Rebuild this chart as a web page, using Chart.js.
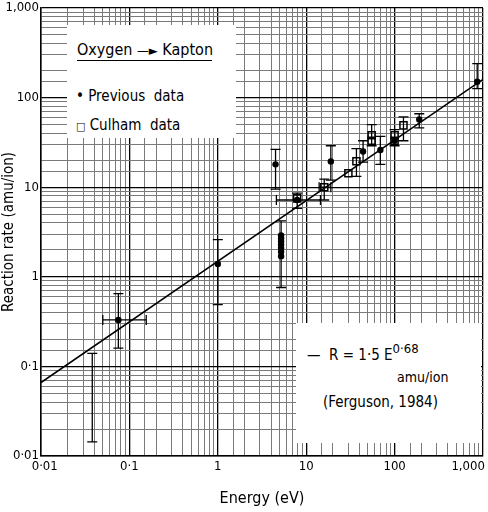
<!DOCTYPE html>
<html lang="en">
<head>
<meta charset="UTF-8">
<title>Oxygen - Kapton reaction rate</title>
<script src="https://cdn.jsdelivr.net/npm/chart.js"></script>
<style>
    body { margin: 0; background: #fff; }
    #wrap { position: relative; width: 488px; height: 512px; font-family: "DejaVu Sans Condensed", "DejaVu Sans", sans-serif; color: #000; }
    .box { position: absolute; background: #fff; }
    .txt { position: absolute; white-space: pre; line-height: 1; }
</style>
</head>
<body>
<div id="wrap">
    <canvas id="myChart" width="488" height="512"></canvas>

    <!-- legend, top left -->
    <div class="box" style="left:67px; top:25px; width:169px; height:113px;">
        <div class="txt" style="left:10px; top:17px; font-size:16px; border-bottom:1.5px solid #000; padding-bottom:2px; width:135px;">Oxygen <span style="font-size:13px;">—►</span> Kapton</div>
        <div class="txt" style="left:9px; top:64px; font-size:15px;">• Previous  data</div>
        <div class="txt" style="left:9px; top:93px; font-size:15px;"><span style="font-size:11px;">□</span> Culham  data</div>
    </div>

    <!-- fit note, bottom right -->
    <div class="box" style="left:296px; top:323px; width:185px; height:120px;">
        <div class="txt" style="left:11px; top:19px; font-size:15px;">—  R = 1·5 E<sup style="font-size:13px; vertical-align:7px;">0·68</sup></div>
        <div class="txt" style="left:101px; top:47px; font-size:14px;">amu/ion</div>
        <div class="txt" style="left:27px; top:72px; font-size:15px;">(Ferguson, 1984)</div>
    </div>
</div>

<script>
    // fitted line R = 1.5 E^0.68, ends
    var fitE = [0.01, 1000];
    var fitR = [0.066, 160];

    // previous data (filled dots)
    var prevE     = [0.075, 1.0, 4.5, 7.9, 5.2, 5.2, 5.2, 5.2, 5.2, 5.2, 5.2, 19, 44, 69, 100, 190, 860];
    var prevR     = [0.33, 1.39, 18, 7.2, 1.7, 1.9, 2.1, 2.3, 2.5, 2.7, 2.9, 19.4, 25, 26, 33, 57, 150];
    var prevRLow  = [0.16, 0.49, 9.5, null, 0.76, null, null, null, null, null, null, 12, 19, 18, null, 46, 126];
    var prevRHigh = [0.65, 2.6, 26.5, null, 4.2, null, null, null, null, null, null, 29, 33, 37, null, 66, 240];
    var prevELow  = [0.05, null, null, 4.6, null, null, null, null, null, null, null, null, null, null, null, null, null];
    var prevEHigh = [0.155, null, null, 14.5, null, null, null, null, null, null, null, null, null, null, null, null, null];

    // bar with no visible point
    var loneE = [0.038];
    var loneR = [0.045];
    var loneRLow = [0.0144];
    var loneRHigh = [0.14];

    // Culham data (open squares)
    var culE     = [7.9, 16, 30, 37, 55, 55, 100, 100, 126];
    var culR     = [7.5, 10, 14.3, 19.5, 38, 33, 38, 33, 49];
    var culRLow  = [5.8, 7.2, null, 13.2, 29, null, 29, null, 33];
    var culRHigh = [8.6, 12.3, null, 27, 50, null, 44, null, 61];
    var culELow  = [null, 14, null, null, null, null, null, null, null];
    var culEHigh = [null, 19, null, null, null, null, null, null, null];

    // axis labels
    var tickValues = [0.01, 0.1, 1, 10, 100, 1000];
    var tickLabels = ['0·01', '0·1', '1', '10', '100', '1,000'];

    var fontName = '"DejaVu Sans Condensed", "DejaVu Sans", sans-serif';
    var figSpace = '\u2007';

    function makePoints(xs, ys, yl, yh, xl, xh) {
        var pts = [];
        xs.forEach(function (x, i) {
            pts.push({
                x: x, y: ys[i],
                yMin: yl ? yl[i] : null, yMax: yh ? yh[i] : null,
                xMin: xl ? xl[i] : null, xMax: xh ? xh[i] : null
            });
        });
        return pts;
    }

    function isDecade(v) {
        var l = Math.log10(v);
        return Math.abs(l - Math.round(l)) < 1e-6;
    }

    function labelIndex(v) {
        for (var i = 0; i < tickValues.length; i++) {
            if (Math.abs(Math.log10(v) - Math.log10(tickValues[i])) < 1e-6) return i;
        }
        return -1;
    }

    function yLabel(v) {
        var i = labelIndex(v);
        return i < 0 ? '' : tickLabels[i];
    }

    // x labels: first and last nudged inward like the original lettering
    function xLabel(v) {
        var i = labelIndex(v);
        if (i < 0) return '';
        if (i == 0) return figSpace + tickLabels[i];
        if (i == tickLabels.length - 1) return tickLabels[i] + figSpace + figSpace + figSpace + figSpace;
        return tickLabels[i];
    }

    // error bars drawn through the chart scales
    var errorBars = {
        id: 'errorBars',
        beforeDatasetsDraw: function (chart) {
            var ctx = chart.ctx;
            var xs = chart.scales.x, ys = chart.scales.y;
            var cap = 5;
            ctx.save();
            ctx.strokeStyle = '#000';
            ctx.lineWidth = 1.3;
            chart.data.datasets.forEach(function (ds) {
                if (!ds.errorBars) return;
                ds.data.forEach(function (p) {
                    var px = xs.getPixelForValue(p.x);
                    var py = ys.getPixelForValue(p.y);
                    ctx.beginPath();
                    if (p.yMin != null && p.yMax != null) {
                        var y1 = ys.getPixelForValue(p.yMin), y2 = ys.getPixelForValue(p.yMax);
                        ctx.moveTo(px, y1); ctx.lineTo(px, y2);
                        ctx.moveTo(px - cap, y1); ctx.lineTo(px + cap, y1);
                        ctx.moveTo(px - cap, y2); ctx.lineTo(px + cap, y2);
                    }
                    if (p.xMin != null && p.xMax != null) {
                        var x1 = xs.getPixelForValue(p.xMin), x2 = xs.getPixelForValue(p.xMax);
                        ctx.moveTo(x1, py); ctx.lineTo(x2, py);
                        ctx.moveTo(x1, py - cap); ctx.lineTo(x1, py + cap);
                        ctx.moveTo(x2, py - cap); ctx.lineTo(x2, py + cap);
                    }
                    ctx.stroke();
                });
            });
            ctx.restore();
        }
    };

    function gridColor(c) {
        if (!c.tick) return '#777';
        return isDecade(c.tick.value) ? '#000' : '#7a7a7a';
    }

    function gridWidth(c) {
        if (!c.tick) return 1;
        return isDecade(c.tick.value) ? 1.3 : 1;
    }

    var ctx01 = document.getElementById('myChart');
    var mychart = new Chart(ctx01, {
        type: 'scatter',
        data: {
            datasets: [{
                label: 'fit',
                data: makePoints(fitE, fitR),
                showLine: true,
                borderColor: '#000',
                borderWidth: 1.6,
                pointRadius: 0,
                order: 3
            }, {
                label: 'lone',
                data: makePoints(loneE, loneR, loneRLow, loneRHigh),
                pointRadius: 0,
                errorBars: true,
                order: 2
            }, {
                label: 'Previous data',
                data: makePoints(prevE, prevR, prevRLow, prevRHigh, prevELow, prevEHigh),
                pointStyle: 'circle',
                pointRadius: 3.2,
                backgroundColor: '#000',
                borderColor: '#000',
                borderWidth: 0,
                errorBars: true,
                order: 1
            }, {
                label: 'Culham data',
                data: makePoints(culE, culR, culRLow, culRHigh, culELow, culEHigh),
                pointStyle: 'rect',
                pointRadius: 5,
                backgroundColor: 'rgba(255,255,255,0)',
                borderColor: '#000',
                borderWidth: 1.5,
                errorBars: true,
                order: 0
            }]
        },
        options: {
            responsive: false,
            animation: false,
            layout: { autoPadding: false, padding: { top: 8, right: 5, left: 0, bottom: 0 } },
            plugins: {
                legend: { display: false },
                tooltip: { enabled: false }
            },
            scales: {
                x: {
                    type: 'logarithmic',
                    min: 0.01,
                    max: 1000,
                    afterFit: function (s) {
                        s.height = 56;
                        s.paddingLeft = 0;
                        s.paddingRight = 0;
                    },
                    border: { color: '#000', width: 1.5 },
                    grid: { color: gridColor, lineWidth: gridWidth, drawTicks: false },
                    ticks: {
                        autoSkip: false,
                        maxRotation: 0,
                        padding: 3,
                        color: '#000',
                        font: { family: fontName, size: 13 },
                        callback: function (v) { return xLabel(v); }
                    },
                    title: {
                        display: true,
                        text: 'Energy (eV)',
                        color: '#000',
                        font: { family: fontName, size: 16 },
                        padding: { top: 6 }
                    }
                },
                y: {
                    type: 'logarithmic',
                    min: 0.01,
                    max: 1000,
                    afterFit: function (s) {
                        s.width = 41;
                        s.paddingTop = 0;
                        s.paddingBottom = 0;
                    },
                    border: { color: '#000', width: 1.5 },
                    grid: { color: gridColor, lineWidth: gridWidth, drawTicks: false },
                    ticks: {
                        autoSkip: false,
                        padding: 2,
                        color: '#000',
                        font: { family: fontName, size: 13 },
                        callback: function (v) { return yLabel(v); }
                    },
                    title: {
                        display: true,
                        text: 'Reaction rate (amu/ion)',
                        color: '#000',
                        font: { family: fontName, size: 15 },
                        padding: 0
                    }
                }
            }
        },
        plugins: [errorBars]
    });
</script>
</body>
</html>
